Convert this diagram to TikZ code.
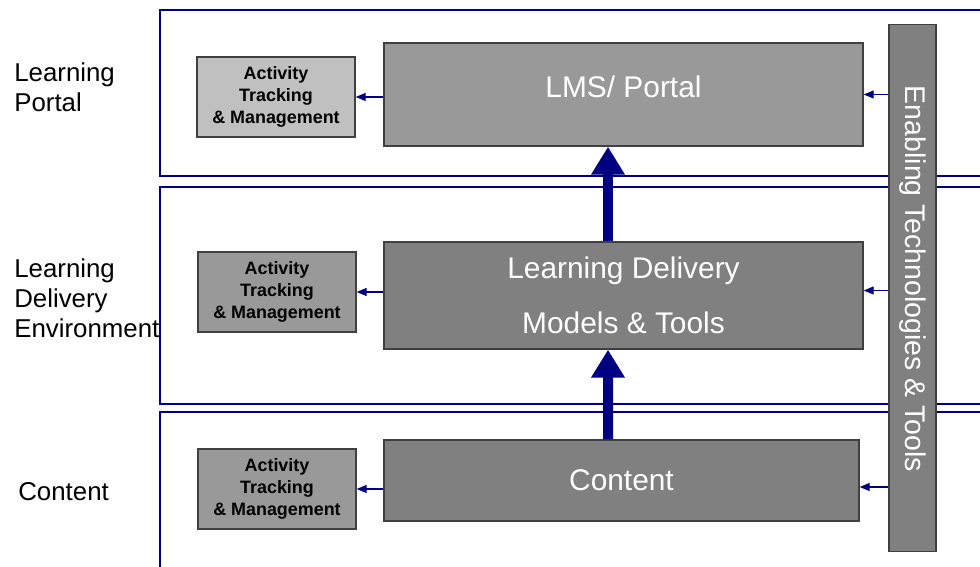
\documentclass[tikz,border=0pt]{standalone}
\usepackage{fontspec}
\setmainfont{Liberation Sans}
\usetikzlibrary{arrows.meta,positioning}
\definecolor{navy}{HTML}{000080}
\definecolor{lightbox}{HTML}{C0C0C0}
\definecolor{midbox}{HTML}{999999}
\definecolor{darkbox}{HTML}{808080}
\definecolor{edge}{HTML}{404040}

\tikzset{
  layer/.style={draw=navy, line width=0.7pt},
  actbox/.style={draw=edge, line width=0.8pt, minimum width=3.16cm, minimum height=1.6cm,
    align=center, font=\fontsize{10.2}{12.5}\selectfont\bfseries},
  mainbox/.style={draw=edge, line width=0.8pt, fill=darkbox, text=white, align=center,
    minimum width=9.58cm, font=\fontsize{17}{31}\selectfont},
  sidelabel/.style={anchor=west, align=left, inner sep=0pt, font=\fontsize{14.7}{17}\selectfont},
  tip/.style={draw=navy, line width=0.6pt, -{Triangle[width=0.16cm,length=0.2cm]}},
  bigtip/.style={draw=navy, line width=0.2cm, -{Triangle[width=0.64cm,length=0.56cm]}}
}

\begin{document}
\begin{tikzpicture}[x=0.02cm, y=-0.02cm]
  \clip (0,0) rectangle (980,567);
  \fill[white] (0,0) rectangle (980,567);

  % the three layers
  \draw[layer] (160,10) rectangle (1000,176);
  \draw[layer] (160,187) rectangle (1000,404);
  \draw[layer] (160,412) rectangle (1000,600);

  % layer names
  \node[sidelabel] (lportal) at (14,87) {Learning\\Portal};
  \node[sidelabel] (ldenv) at (14,298) {Learning\\Delivery\\Environment};
  \node[sidelabel] (lcontent) at (18,492) {Content};

  % main blocks
  \node[mainbox, fill=midbox, minimum height=2.06cm, text depth=0.3cm] (lms) at (623.5,94.5) {LMS/ Portal};
  \node[mainbox, minimum height=2.14cm] (ld) at (623.5,295.5) {Learning Delivery\\Models \& Tools};
  \node[mainbox, minimum width=9.5cm, minimum height=1.62cm] (content) at (621.5,480.5) {Content};

  % activity tracking
  \node[actbox, fill=lightbox] (act1) at (276,97) {Activity\\Tracking\\\& Management};
  \node[actbox, fill=midbox] (act2) at (277,292) {Activity\\Tracking\\\& Management};
  \node[actbox, fill=midbox] (act3) at (277,489) {Activity\\Tracking\\\& Management};

  % enabling bar
  \node[draw=edge, line width=0.8pt, fill=darkbox, minimum width=0.94cm, minimum height=10.54cm] (bar) at (912.5,288) {};
  \node[text=white, rotate=-90, font=\fontsize{16.2}{18}\selectfont] (bartext) at (912.5,279) {Enabling Technologies \& Tools};

  % connectors
  \draw[tip] (bar.west |- lms.east) -- (lms.east);
  \draw[tip] ([yshift=0.1cm]bar.west |- ld.east) -- ([yshift=0.1cm]ld.east);
  \draw[tip] ([yshift=-0.13cm]bar.west |- content.east) -- ([yshift=-0.13cm]content.east);
  \draw[tip] (lms.west |- act1.east) -- (act1.east);
  \draw[tip] (ld.west |- act2.east) -- (act2.east);
  \draw[tip] (content.west |- act3.east) -- (act3.east);

  \draw[bigtip] ([xshift=-0.31cm]ld.north) -- ([xshift=-0.31cm]lms.south);
  \draw[bigtip] ([xshift=-0.27cm]content.north) -- ([xshift=-0.31cm]ld.south);
\end{tikzpicture}
\end{document}
